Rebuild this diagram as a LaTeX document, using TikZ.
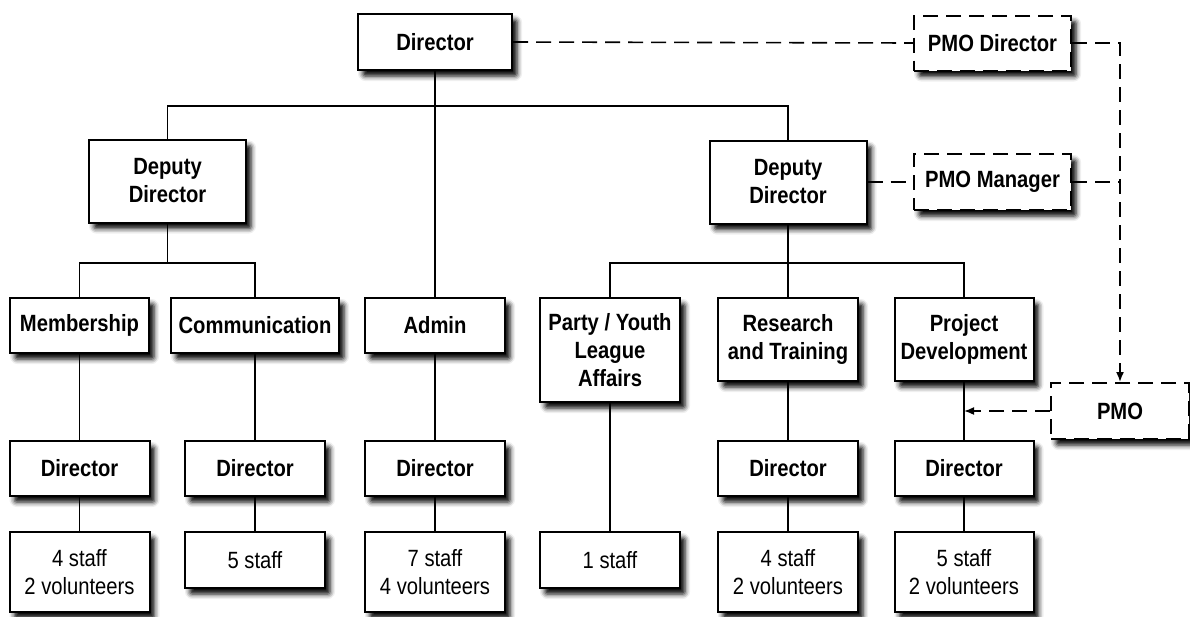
\documentclass[tikz,border=0pt]{standalone}
\usepackage{fontspec}
\setmainfont{Liberation Sans}[FakeStretch=0.86]
\usetikzlibrary{arrows.meta,shadows.blur}
\begin{document}
\begin{tikzpicture}[x=1pt,y=-1pt,
  every node/.style={font=\fontsize{23}{28}\selectfont},
  box/.style={draw, line width=2pt, fill=white, align=center, inner sep=0pt,
    minimum width=140pt, minimum height=55pt, font=\fontsize{23.5}{28}\selectfont\bfseries,
    blur shadow={shadow xshift=5pt, shadow yshift=-6pt, shadow blur radius=5pt, shadow blur extra rounding=2pt, shadow opacity=100}},
  staffbox/.style={box, font=\fontsize{23.5}{28}\selectfont},
  dbox/.style={box, dash pattern=on 15pt off 8pt},
  link/.style={line width=1.6pt},
  dlink/.style={line width=1.6pt, dash pattern=on 15pt off 8pt},
  arr/.style={-{Latex[length=10pt,width=8pt]}}]
\useasboundingbox (0,0) rectangle (1190,616);

\coordinate (b0) at (435,106);
\coordinate (b1) at (167.5,263);
\coordinate (b2) at (788,263);
\coordinate (jm) at (1120,182);

% nodes
\node[box, minimum width=154pt, minimum height=56pt] (dir) at (435,42) {Director};
\node[box, minimum width=157pt, minimum height=83pt] (dep1) at (167.5,181) {Deputy\\Director};
\node[box, minimum width=157pt, minimum height=83pt] (dep2) at (788,182) {Deputy\\Director};

\node[box, minimum width=139pt] (mem) at (79.5,325.5) {Membership};
\node[box, minimum width=168pt] (com) at (255,325.5) {Communication};
\node[box] (adm) at (435,325.5) {Admin};
\node[box, minimum height=104pt] (party) at (610,350) {Party / Youth\\League\\Affairs};
\node[box, minimum height=83pt] (res) at (788,339.5) {Research\\and Training};
\node[box, minimum width=139pt, minimum height=83pt] (proj) at (964,339.5) {Project\\Development};

\node[box] (memd) at (79.5,468.5) {Director};
\node[box] (comd) at (255,468.5) {Director};
\node[box] (admd) at (435,468.5) {Director};
\node[box] (resd) at (788,468.5) {Director};
\node[box, minimum width=139pt] (projd) at (964,468.5) {Director};

\node[staffbox, minimum height=80pt] (s1) at (79.5,572) {4 staff\\2 volunteers};
\node[staffbox, minimum height=56pt] (s2) at (255,560) {5 staff};
\node[staffbox, minimum height=80pt] (s3) at (435,572) {7 staff\\4 volunteers};
\node[staffbox, minimum height=56pt] (s4) at (610,560) {1 staff};
\node[staffbox, minimum height=80pt] (s5) at (788,572) {4 staff\\2 volunteers};
\node[staffbox, minimum width=139pt, minimum height=80pt] (s6) at (964,572) {5 staff\\2 volunteers};

\node[dbox, minimum width=157pt] (pmod) at (992.5,43) {PMO Director};
\node[dbox, minimum width=157pt, minimum height=56pt] (pmom) at (992.5,182) {PMO Manager};
\node[dbox, minimum width=138pt, minimum height=56pt] (pmo) at (1120,411) {PMO};

% solid connectors
\draw[link] (dir.south) -- (adm.north);
\draw[link] (dep1.north) |- (b0) -| (dep2.north);
\draw[link] (dep1.south) -- (b1);
\draw[link] (mem.north) |- (b1) -| (com.north);
\draw[link] (dep2.south) -- (b2);
\draw[link] (party.north) |- (b2) -| (proj.north);
\draw[link] (b2) -- (res.north);
\draw[link] (mem) -- (memd);
\draw[link] (com) -- (comd);
\draw[link] (adm) -- (admd);
\draw[link] (res) -- (resd);
\draw[link] (proj) -- (projd);
\draw[link] (memd) -- (s1);
\draw[link] (comd) -- (s2);
\draw[link] (admd) -- (s3);
\draw[link] (party) -- (s4);
\draw[link] (resd) -- (s5);
\draw[link] (projd) -- (s6);

% dashed connectors
\draw[dlink] (dir.east) -- (pmod.west);
\draw[dlink, arr] (pmod.east) -| (pmo.north);
\draw[dlink] (dep2.east) -- (pmom.west);
\draw[dlink] (pmom.east) -- (jm);
\draw[dlink, arr] (pmo.west) -- (pmo.west -| proj.south);
\end{tikzpicture}
\end{document}
